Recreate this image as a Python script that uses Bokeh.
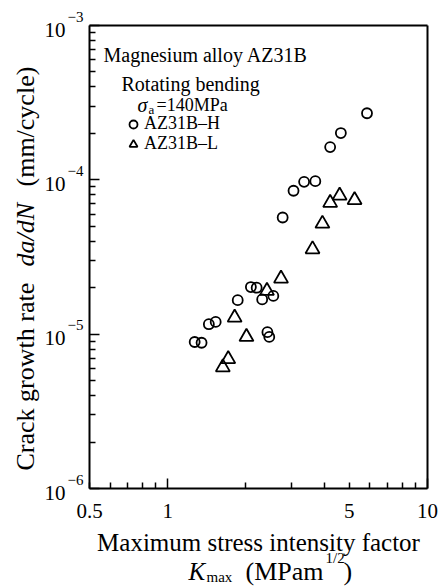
import math
from bokeh.plotting import figure
from bokeh.models import (FixedTicker, Label, Legend, LegendItem, LogAxis,
                          CustomJSTickFormatter)
from bokeh.embed import file_html
from bokeh.resources import INLINE

# ---------------- data ----------------
h_kmax = [1.27, 1.35, 1.44, 1.53, 1.86, 2.09, 2.20, 2.31, 2.55, 2.42, 2.46,
          2.77, 3.05, 3.35, 3.70, 4.22, 4.64, 5.85]
h_dadn = [8.9e-6, 8.8e-6, 1.16e-5, 1.20e-5, 1.66e-5, 2.02e-5, 2.0e-5, 1.68e-5,
          1.77e-5, 1.03e-5, 9.6e-6, 5.7e-5, 8.5e-5, 9.7e-5, 9.8e-5, 1.63e-4,
          2.01e-4, 2.70e-4]
l_kmax = [1.63, 1.71, 1.81, 2.01, 2.41, 2.73, 3.61, 3.94, 4.22, 4.59, 5.24]
l_dadn = [6.1e-6, 6.9e-6, 1.28e-5, 9.6e-6, 1.91e-5, 2.29e-5, 3.55e-5, 5.2e-5,
          7.1e-5, 7.9e-5, 7.4e-5]

series_names = ["AZ31B\u2013H", "AZ31B\u2013L"]

x_tick_values = [0.5, 1, 5, 10]
x_tick_labels = ["0.5", "1", "5", "10"]
x_major = [1, 10]
x_minor = [0.5, 0.6, 0.7, 0.8, 0.9, 2, 3, 4, 5, 6, 7, 8, 9]

y_tick_values = [1e-6, 1e-5, 1e-4, 1e-3]
y_tick_exps = ["\u22126", "\u22125", "\u22124", "\u22123"]
y_minor = [k * 10.0 ** e for e in (-6, -5, -4) for k in range(2, 10)]

FONT = "Liberation Serif"

# ---------------- geometry: plot box inside the canvas ----------------
W, H = 438, 587
BOX_L, BOX_R, BOX_T, BOX_B = 89, 427, 25, 488
X0, X1 = 0.5, 10.0
Y0, Y1 = 1e-6, 1e-3
LX = math.log10(X1 / X0) / (BOX_R - BOX_L)
LY = math.log10(Y1 / Y0) / (BOX_B - BOX_T)


def xd(px):
    """canvas pixel -> x value (used only to place texts)"""
    return 10 ** (math.log10(X0) + (px - BOX_L) * LX)


def yd(py):
    """canvas pixel -> y value (used only to place texts)"""
    return 10 ** (math.log10(Y1) - (py - BOX_T) * LY)


def ypx(v):
    return BOX_T + (math.log10(Y1) - math.log10(v)) / LY


p = figure(width=W, height=H, x_axis_type="log", y_axis_type="log",
           x_range=(xd(0), xd(W)), y_range=(yd(H), yd(0)),
           output_backend="svg", toolbar_location=None, min_border=0)
p.grid.visible = False
p.outline_line_color = None
p.background_fill_color = "white"
p.border_fill_color = "white"

blank = CustomJSTickFormatter(code="return ''")


def style_axis(ax, ticker, ticks_on=True):
    ax.ticker = ticker
    ax.axis_line_width = 2
    ax.axis_line_color = "black"
    ax.major_tick_in = 10
    ax.major_tick_out = 0
    ax.minor_tick_in = 6
    ax.minor_tick_out = 0
    ax.major_tick_line_width = 1.5
    ax.minor_tick_line_width = 1.5
    ax.major_tick_line_color = "black" if ticks_on else None
    ax.minor_tick_line_color = "black" if ticks_on else None
    ax.formatter = blank
    ax.major_label_text_font_size = "0px"
    ax.major_label_standoff = 0
    ax.axis_label = None


xa = p.xaxis[0]
style_axis(xa, FixedTicker(ticks=x_major, minor_ticks=x_minor))
xa.fixed_location = Y0
xa.bounds = (X0, X1)

ya = p.yaxis[0]
style_axis(ya, FixedTicker(ticks=y_tick_values, minor_ticks=y_minor))
ya.fixed_location = X0
ya.bounds = (Y0, Y1)

top = LogAxis()
style_axis(top, FixedTicker(ticks=[]), ticks_on=False)
top.fixed_location = Y1
top.bounds = (X0, X1)
p.add_layout(top, "above")

right = LogAxis()
style_axis(right, FixedTicker(ticks=[]), ticks_on=False)
right.fixed_location = X1
right.bounds = (Y0, Y1)
p.add_layout(right, "right")

r_h = p.scatter(h_kmax, h_dadn, marker="circle", size=10, fill_color=None,
                line_color="black", line_width=1.8)
r_l = p.scatter(l_kmax, l_dadn, marker="triangle", size=14, fill_color=None,
                line_color="black", line_width=1.8)


def lab(x, y, text, size, align="left", italic=False, angle=0.0):
    p.add_layout(Label(x=x, y=y, text=text, text_font=FONT,
                       text_font_size=f"{size}px", text_align=align,
                       text_baseline="middle", text_color="black",
                       text_font_style="italic" if italic else "normal",
                       angle=angle))


# y tick labels 10^n
for v, e in zip(y_tick_values, y_tick_exps):
    lab(xd(65), yd(ypx(v) + 4), "10", 21, align="right")
    lab(xd(67), yd(ypx(v) - 9), e, 15, align="left")

# x tick labels
for v, t in zip(x_tick_values, x_tick_labels):
    lab(v, yd(510), t, 21, align="center")

# x axis title
lab(xd(258), yd(542), "Maximum stress intensity factor", 25, align="center")
lab(xd(188), yd(571), "K", 25, italic=True)
lab(xd(206), yd(576), "max", 15)
lab(xd(245), yd(571), "(MPam", 26)
lab(xd(325), yd(557), "1/2", 15)
lab(xd(343), yd(571), ")", 26)

# y axis title (rotated)
lab(xd(25), yd(470), "Crack growth rate", 26, angle=math.pi / 2)
lab(xd(25), yd(266), "da/dN", 26, italic=True, angle=math.pi / 2)
lab(xd(25), yd(186), "(mm/cycle)", 26, angle=math.pi / 2)

# annotation block
lab(xd(103), yd(54), "Magnesium alloy AZ31B", 20)
lab(xd(121), yd(83), "Rotating bending", 20)
lab(xd(137), yd(104), "\u03c3", 20, italic=True)
lab(xd(148), yd(109), "a", 13)
lab(xd(156), yd(104), "=140MPa", 18)

# legend entries (one legend per row for exact placement)
for name, rend, cy in zip(series_names, [r_h, r_l], [124, 144]):
    leg = Legend(items=[LegendItem(label=name, renderers=[rend])],
                 location=(133 - 10, H - (cy + 10)),
                 glyph_width=20, glyph_height=20, label_height=20,
                 label_standoff=1, padding=0, margin=0, spacing=0,
                 background_fill_alpha=0, border_line_color=None,
                 label_text_font=FONT, label_text_font_size="18px",
                 label_text_color="black")
    p.add_layout(leg)

open("out.html", "w").write(file_html(p, INLINE))
